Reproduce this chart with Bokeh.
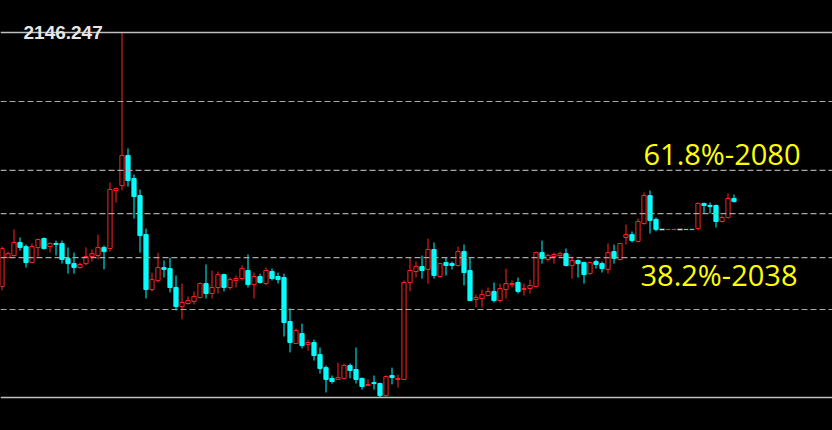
import numpy as np
from bokeh.plotting import figure
from bokeh.models import Range1d, Label, Span
from bokeh.embed import file_html
from bokeh.resources import INLINE

# ---- data (price values) ----
opens = [2023.9, 2037.8, 2038.8, 2045.1, 2043.1, 2035.4, 2042.7, 2047.0, 2043.1, 2044.6,
         2044.6, 2037.4, 2034.9, 2033.0, 2034.9, 2038.3, 2038.8, 2042.7, 2042.2, 2070.1,
         2072.5, 2087.0, 2075.9, 2067.7, 2048.9, 2022.4, 2026.8, 2033.0, 2032.5, 2023.4,
         2014.2, 2015.7, 2016.7, 2018.6, 2025.3, 2020.5, 2023.4, 2029.6, 2023.4, 2026.8,
         2027.7, 2031.6, 2024.8, 2028.7, 2025.3, 2031.1, 2028.7, 2028.2, 2007.0, 1996.4,
         2001.2, 1995.9, 1996.9, 1991.1, 1984.8, 1979.6, 1979.1, 1979.6, 1985.8, 1983.9,
         1979.6, 1976.2, 1977.6, 1977.1, 1971.3, 1981.0, 1979.1, 1979.1, 2025.8, 2031.1,
         2033.5, 2032.1, 2041.7, 2028.7, 2035.4, 2034.9, 2034.0, 2040.7, 2031.6, 2017.6,
         2018.1, 2019.5, 2021.5, 2017.1, 2022.4, 2024.8, 2025.8, 2022.4, 2022.9, 2023.9,
         2040.2, 2036.9, 2038.3, 2038.8, 2039.7, 2034.0, 2036.4, 2035.4, 2030.1, 2035.9,
         2034.9, 2032.1, 2040.7, 2036.9, 2047.5, 2048.9, 2045.6, 2054.2, 2067.7, 2056.2,
         2051.4, 2051.3, 2051.3, 2051.4, 2051.4, 2051.4, 2051.8, 2063.9, 2062.9, 2062.9,
         2055.2, 2057.1, 2066.3]

highs = [2043.1, 2040.7, 2051.4, 2047.5, 2044.1, 2044.6, 2047.0, 2047.5, 2045.1, 2046.0,
         2046.0, 2042.7, 2040.2, 2035.4, 2042.7, 2041.7, 2048.9, 2043.6, 2074.0, 2071.6,
         2146.247, 2090.4, 2077.8, 2070.6, 2051.8, 2030.6, 2040.2, 2036.4, 2037.8, 2029.2,
         2025.3, 2019.1, 2021.5, 2025.8, 2034.5, 2031.6, 2031.1, 2030.1, 2028.2, 2029.2,
         2034.0, 2039.3, 2030.6, 2030.1, 2033.0, 2032.5, 2030.6, 2030.1, 2013.3, 2003.6,
         2006.0, 1998.3, 1998.3, 1994.5, 1985.8, 1981.0, 1987.2, 1986.8, 1986.8, 1994.5,
         1980.0, 1979.1, 1981.0, 1977.6, 1981.0, 1984.8, 1981.5, 2026.8, 2037.8, 2035.9,
         2038.8, 2047.0, 2045.1, 2035.4, 2037.8, 2035.9, 2043.1, 2044.1, 2037.8, 2020.0,
         2022.4, 2023.4, 2025.8, 2025.3, 2032.5, 2026.8, 2028.2, 2025.3, 2027.2, 2040.7,
         2046.0, 2039.7, 2040.2, 2040.7, 2042.2, 2038.3, 2036.9, 2035.9, 2035.9, 2036.9,
         2035.9, 2044.6, 2044.1, 2044.6, 2053.7, 2050.4, 2056.6, 2069.2, 2070.1, 2057.1,
         2051.4, 2051.4, 2051.4, 2051.4, 2051.4, 2051.4, 2064.3, 2064.3, 2064.3, 2063.4,
         2058.1, 2068.7, 2068.2]

lows = [2022.0, 2037.4, 2038.3, 2041.2, 2033.0, 2035.4, 2038.3, 2041.7, 2040.2, 2038.8,
        2034.9, 2030.1, 2030.1, 2032.5, 2034.0, 2035.9, 2036.9, 2032.1, 2040.7, 2064.3,
        2070.1, 2072.0, 2056.6, 2040.2, 2018.1, 2021.5, 2025.8, 2028.2, 2021.0, 2012.3,
        2008.0, 2015.2, 2015.2, 2018.1, 2018.1, 2018.1, 2020.5, 2021.5, 2022.4, 2023.4,
        2026.8, 2023.4, 2018.1, 2025.3, 2024.4, 2026.8, 2025.3, 1999.8, 1992.1, 1996.4,
        1994.0, 1993.0, 1988.2, 1981.9, 1972.8, 1977.1, 1979.1, 1979.1, 1979.6, 1977.1,
        1974.2, 1976.2, 1974.2, 1970.4, 1970.9, 1976.7, 1975.2, 1979.1, 2021.5, 2028.2,
        2027.7, 2025.3, 2027.7, 2028.2, 2029.2, 2032.1, 2033.5, 2024.4, 2017.1, 2013.8,
        2013.8, 2019.1, 2016.2, 2016.2, 2018.1, 2023.4, 2020.5, 2019.5, 2020.5, 2023.4,
        2034.9, 2035.9, 2034.9, 2037.8, 2033.5, 2027.7, 2028.2, 2025.3, 2029.6, 2032.5,
        2030.6, 2030.1, 2034.9, 2036.4, 2044.1, 2045.1, 2045.1, 2053.7, 2049.4, 2050.4,
        2051.3, 2051.3, 2051.3, 2051.3, 2051.3, 2051.3, 2050.9, 2059.0, 2059.0, 2052.3,
        2054.7, 2056.6, 2064.3]

closes = [2042.2, 2039.7, 2045.1, 2042.7, 2035.4, 2043.1, 2046.5, 2042.2, 2044.6, 2044.1,
          2036.9, 2034.9, 2033.0, 2034.5, 2038.3, 2039.7, 2042.7, 2040.7, 2070.6, 2071.1,
          2087.0, 2074.9, 2067.2, 2048.4, 2022.4, 2027.2, 2033.0, 2032.1, 2023.4, 2014.2,
          2016.2, 2017.1, 2019.1, 2025.3, 2020.5, 2023.4, 2029.6, 2023.4, 2027.2, 2027.7,
          2032.5, 2024.8, 2028.7, 2025.8, 2031.6, 2027.7, 2027.2, 2006.5, 1996.9, 2002.7,
          1995.4, 1996.9, 1990.6, 1984.4, 1979.1, 1978.1, 1980.0, 1985.8, 1983.4, 1979.1,
          1975.7, 1976.7, 1977.1, 1971.3, 1980.5, 1980.0, 1979.6, 2025.8, 2031.6, 2033.5,
          2031.6, 2041.7, 2029.2, 2034.9, 2034.0, 2034.0, 2040.7, 2030.6, 2017.1, 2018.6,
          2020.0, 2021.5, 2017.1, 2022.9, 2025.3, 2025.3, 2021.5, 2022.9, 2024.4, 2040.2,
          2037.4, 2038.8, 2039.3, 2039.7, 2034.0, 2036.4, 2034.9, 2029.6, 2035.4, 2034.5,
          2032.5, 2040.2, 2037.4, 2044.6, 2048.9, 2046.0, 2055.2, 2067.7, 2055.7, 2051.4,
          2051.4, 2051.4, 2051.4, 2051.4, 2051.3, 2051.3, 2063.9, 2062.9, 2062.4, 2055.2,
          2057.1, 2066.3, 2064.8]

range_high = 2146.247
range_low = 1970.4
fib_levels = [2113.0, 2079.8, 2059.0, 2037.8, 2012.8]
fib_texts = ["61.8%-2080", "38.2%-2038"]
high_text = "2146.247"

# ---- styles ----
RED = "#ff2424"
CYAN = "#00ffff"
FLAT = "#d8d8d8"
BG = "black"

W, H = 832, 430
SLOT = 6.0  # pixels per candle
x0 = -0.25
p = figure(width=W, height=H, output_backend="svg", toolbar_location=None,
           x_axis_type=None, y_axis_type=None,
           x_range=Range1d(x0, x0 + W / SLOT), y_range=Range1d(1954.5, 2161.67),
           min_border=0, background_fill_color=BG, border_fill_color=BG,
           outline_line_color=None)

# level lines
for lvl in fib_levels:
    p.add_layout(Span(location=lvl, dimension="width", line_color="#a8a8a8",
                      line_dash="6 3", line_width=1.2))
for lvl in (range_high, range_low):
    p.add_layout(Span(location=lvl, dimension="width", line_color="#c0c0c0",
                      line_width=1.5))

o = np.array(opens); c = np.array(closes); h = np.array(highs); l = np.array(lows)
idx = np.arange(len(o), dtype=float)
up = c > o
dn = c < o
fl = c == o

wick_col = np.where(up, RED, np.where(dn, CYAN, FLAT))
p.segment(x0=idx, y0=l, x1=idx, y1=h, line_color=list(wick_col), line_width=1)

top = np.maximum(o, c); bot = np.minimum(o, c)
BW = 0.7
p.vbar(x=idx[up], width=BW, top=top[up], bottom=bot[up],
       fill_color=BG, line_color=RED, line_width=1)
p.vbar(x=idx[dn], width=BW, top=top[dn], bottom=bot[dn],
       fill_color=CYAN, line_color=CYAN, line_width=1)
p.segment(x0=idx[fl] - 0.42, y0=c[fl], x1=idx[fl] + 0.42, y1=c[fl],
          line_color=FLAT, line_width=1.5)

# labels
p.add_layout(Label(x=23, y=H - 32, x_units="screen", y_units="screen",
                   text=high_text, text_font="Liberation Sans", text_font_style="bold",
                   text_font_size="19px", text_color="#e6e6e6",
                   text_baseline="alphabetic"))
p.add_layout(Label(x=643, y=H - 153, x_units="screen", y_units="screen",
                   text=fib_texts[0], text_font="Open Sans",
                   text_font_size="29px", text_color="#ffff00",
                   text_baseline="alphabetic"))
p.add_layout(Label(x=640, y=H - 274, x_units="screen", y_units="screen",
                   text=fib_texts[1], text_font="Open Sans",
                   text_font_size="29px", text_color="#ffff00",
                   text_baseline="alphabetic"))

html = file_html(p, INLINE, title="chart")
html = html.replace("</head>",
                    "<style>html,body{margin:0;padding:0;background:#000;overflow:hidden}</style></head>", 1)
open("out.html", "w").write(html)
